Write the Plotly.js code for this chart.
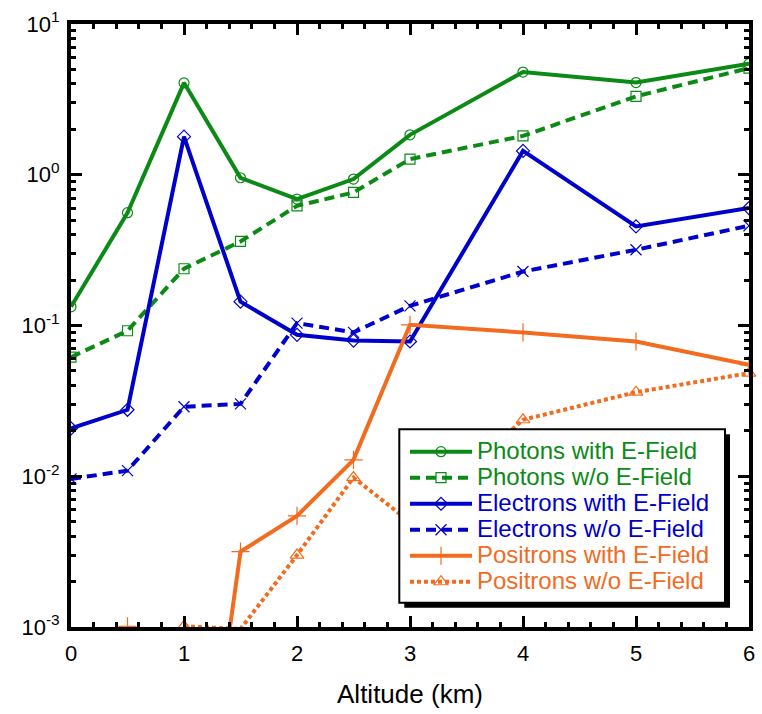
<!DOCTYPE html>
<html><head><meta charset="utf-8">
<script src="https://cdn.plot.ly/plotly-3.0.1.min.js"></script>
<style>html,body{margin:0;padding:0;background:#fff}#chart{width:762px;height:714px}</style>
</head><body><div id="chart"></div>
<script>
// ---- data ----
const altitude        = [0, 0.5, 1, 1.5, 2, 2.5, 3, 4, 5, 6];
const photonsWithE    = [0.133, 0.56, 4.07, 0.955, 0.69, 0.936, 1.84, 4.8, 4.09, 5.46];
const photonsNoE      = [0.0617, 0.0923, 0.238, 0.361, 0.622, 0.763, 1.27, 1.81, 3.31, 5.1];
const electronsWithE  = [0.0208, 0.0276, 1.79, 0.144, 0.0867, 0.0794, 0.0783, 1.44, 0.454, 0.601];
const electronsNoE    = [0.0096, 0.0109, 0.0289, 0.0302, 0.1038, 0.090, 0.135, 0.228, 0.318, 0.459];
const positronsWithE  = [null, 0.00101, 0.0000065, 0.00316, 0.00546, 0.01285, 0.101, 0.090, 0.0783, 0.0548];
const positronsNoE    = [null, null, 0.00101, 0.00097, 0.0030, 0.0098, 0.00498, 0.0237, 0.0361, 0.0483];
const seriesNames = ['Photons with E-Field', 'Photons w/o E-Field', 'Electrons with E-Field',
                     'Electrons w/o E-Field', 'Positrons with E-Field', 'Positrons w/o E-Field'];
const xTickVals = [0, 1, 2, 3, 4, 5, 6];
const xTickText = ['0', '1', '2', '3', '4', '5', '6'];
const yTickVals = [0.001, 0.01, 0.1, 1, 10];
const yTickText = ['10<sup>-3</sup>', '10<sup>-2</sup>', '10<sup>-1</sup>', '10<sup>0</sup>', '10<sup>1</sup>'];
const xTitle = 'Altitude (km)';

// ---- styles ----
const GREEN = '#0b8a16', BLUE = '#0000cc', ORANGE = '#f26b1f';
const FONT = 'Arial, "Liberation Sans", sans-serif';
const W = 762, H = 714;
const M = {l: 71, r: 13, t: 24, b: 87};
const PW = W - M.l - M.r, PH = H - M.t - M.b;
const px2x = p => (p - M.l) / PW;
const px2y = p => (H - M.b - p) / PH;

function lbl(name, color) {
  return '<span style="font-size:24px;color:' + color + '">' + name + '</span>';
}

const ys = [photonsWithE, photonsNoE, electronsWithE, electronsNoE, positronsWithE, positronsNoE];
const colors = [GREEN, GREEN, BLUE, BLUE, ORANGE, ORANGE];
const dashes = ['solid', '10px,6px', 'solid', '10px,6px', 'solid', '4px,3px'];
const symbols = ['circle-open', 'square-open', 'diamond-open', 'x-thin-open', 'cross-thin-open', 'triangle-up-open'];
const msizes = [10, 10, 10, 11, 13, 12];

const traces = ys.map((y, i) => ({
  type: 'scatter', mode: 'lines+markers',
  x: altitude, y: y, name: lbl(seriesNames[i], colors[i]),
  line: {color: colors[i], width: 4, dash: dashes[i]},
  marker: {symbol: symbols[i], size: msizes[i], color: colors[i], line: {width: 1.2, color: colors[i]}},
  cliponaxis: i === 5 ? false : true,
  connectgaps: false
}));

// minor y ticks 2..9 per decade
const yMinor = [];
for (let d = -3; d < 1; d++) for (let k = 2; k <= 9; k++) yMinor.push(k * Math.pow(10, d));

const axisCommon = {
  showline: true, linecolor: 'black', linewidth: 4, mirror: 'allticks',
  ticks: 'inside', ticklen: 11, tickwidth: 3, tickcolor: 'black',
  showgrid: false, zeroline: false, automargin: false,
  tickfont: {family: FONT, size: 22, color: 'black'}
};

const layout = {
  width: W, height: H, margin: M,
  paper_bgcolor: 'white', plot_bgcolor: 'white',
  showlegend: true,
  xaxis: Object.assign({}, axisCommon, {
    range: [0, 6], tickmode: 'array', tickvals: xTickVals, ticktext: xTickText,
    ticklabelstandoff: 4,
    minor: {dtick: 0.2, tick0: 0, ticks: 'inside', ticklen: 5, tickwidth: 3, tickcolor: 'black', showgrid: false},
    title: {text: xTitle, font: {family: FONT, size: 26, color: 'black'}, standoff: 20}
  }),
  yaxis: Object.assign({}, axisCommon, {
    type: 'log', range: [-3, 1], tickmode: 'array', tickvals: yTickVals, ticktext: yTickText,
    ticklabelstandoff: 3,
    minor: {tickmode: 'array', tickvals: yMinor, ticks: 'inside', ticklen: 5, tickwidth: 3, tickcolor: 'black', showgrid: false}
  }),
  legend: {
    x: px2x(405), y: px2y(433.7), xanchor: 'left', yanchor: 'top',
    bgcolor: 'rgba(0,0,0,0)', borderwidth: 0, itemwidth: 62,
    font: {family: FONT, size: 17.7, color: 'black'},
    tracegroupgap: 0
  },
  shapes: [
    {type: 'rect', xref: 'paper', yref: 'paper', layer: 'above',
     x0: px2x(404.3), x1: px2x(730), y0: px2y(434.3), y1: px2y(607.7),
     fillcolor: 'black', line: {width: 0}},
    {type: 'rect', xref: 'paper', yref: 'paper', layer: 'above',
     x0: px2x(399.3), x1: px2x(725), y0: px2y(429.3), y1: px2y(602.7),
     fillcolor: 'white', line: {color: 'black', width: 2}}
  ]
};

Plotly.newPlot('chart', traces, layout, {staticPlot: true, displayModeBar: false});
</script>
</body></html>
